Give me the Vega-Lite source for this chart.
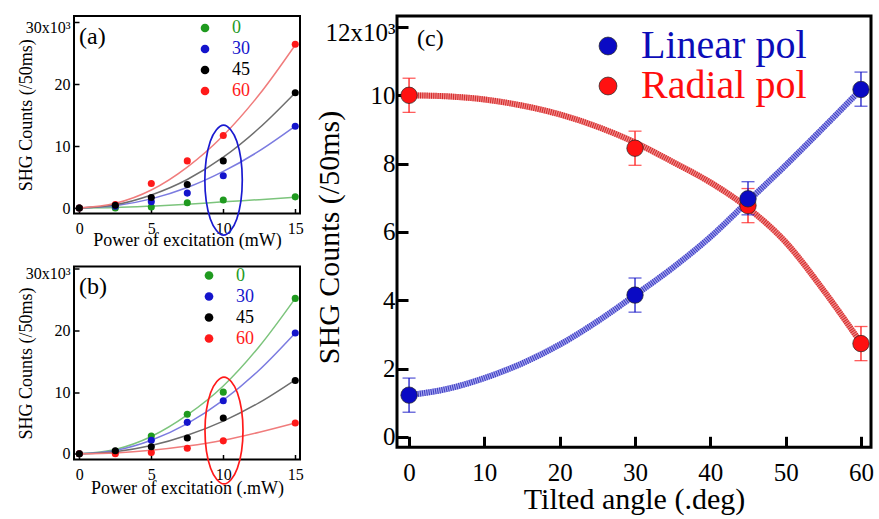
{
  "$schema": "https://vega.github.io/schema/vega-lite/v6.json",
  "background": "white",
  "padding": {"left": 15, "top": 13, "right": 0, "bottom": 0},
  "config": {
    "font": "Liberation Serif",
    "view": {"stroke": "black", "strokeWidth": 2},
    "axis": {"grid": false, "domain": false, "labelFont": "Liberation Serif", "titleFont": "Liberation Serif", "titleFontWeight": "normal", "labelColor": "black", "titleColor": "black", "tickColor": "black", "labelFlush": false, "labelOverlap": false, "labelBound": false},
    "title": {"font": "Liberation Serif", "fontWeight": "normal", "color": "black"},
    "legend": {"labelFont": "Liberation Serif", "labelLimit": 400}
  },
  "datasets": {
    "ptsAB": [
      {"panel": "a", "angle": "0", "power": 0, "counts": 0},
      {"panel": "a", "angle": "0", "power": 2.5, "counts": 0},
      {"panel": "a", "angle": "0", "power": 5, "counts": 150},
      {"panel": "a", "angle": "0", "power": 7.5, "counts": 850},
      {"panel": "a", "angle": "0", "power": 10, "counts": 1300},
      {"panel": "a", "angle": "0", "power": 15, "counts": 1800},
      {"panel": "a", "angle": "30", "power": 0, "counts": 0},
      {"panel": "a", "angle": "30", "power": 2.5, "counts": 300},
      {"panel": "a", "angle": "30", "power": 5, "counts": 1000},
      {"panel": "a", "angle": "30", "power": 7.5, "counts": 2400},
      {"panel": "a", "angle": "30", "power": 10, "counts": 5200},
      {"panel": "a", "angle": "30", "power": 15, "counts": 13200},
      {"panel": "a", "angle": "60", "power": 0, "counts": 0},
      {"panel": "a", "angle": "60", "power": 2.5, "counts": 550},
      {"panel": "a", "angle": "60", "power": 5, "counts": 3950},
      {"panel": "a", "angle": "60", "power": 7.5, "counts": 7600},
      {"panel": "a", "angle": "60", "power": 10, "counts": 11700},
      {"panel": "a", "angle": "60", "power": 15, "counts": 26400},
      {"panel": "a", "angle": "45", "power": 0, "counts": 0},
      {"panel": "a", "angle": "45", "power": 2.5, "counts": 450},
      {"panel": "a", "angle": "45", "power": 5, "counts": 1700},
      {"panel": "a", "angle": "45", "power": 7.5, "counts": 3800},
      {"panel": "a", "angle": "45", "power": 10, "counts": 7600},
      {"panel": "a", "angle": "45", "power": 15, "counts": 18600},
      {"panel": "b", "angle": "0", "power": 0, "counts": 0},
      {"panel": "b", "angle": "0", "power": 2.5, "counts": 400},
      {"panel": "b", "angle": "0", "power": 5, "counts": 2900},
      {"panel": "b", "angle": "0", "power": 7.5, "counts": 6400},
      {"panel": "b", "angle": "0", "power": 10, "counts": 10000},
      {"panel": "b", "angle": "0", "power": 15, "counts": 25200},
      {"panel": "b", "angle": "30", "power": 0, "counts": 0},
      {"panel": "b", "angle": "30", "power": 2.5, "counts": 300},
      {"panel": "b", "angle": "30", "power": 5, "counts": 2200},
      {"panel": "b", "angle": "30", "power": 7.5, "counts": 5100},
      {"panel": "b", "angle": "30", "power": 10, "counts": 8600},
      {"panel": "b", "angle": "30", "power": 15, "counts": 19600},
      {"panel": "b", "angle": "60", "power": 0, "counts": 0},
      {"panel": "b", "angle": "60", "power": 2.5, "counts": 0},
      {"panel": "b", "angle": "60", "power": 5, "counts": 200},
      {"panel": "b", "angle": "60", "power": 7.5, "counts": 900},
      {"panel": "b", "angle": "60", "power": 10, "counts": 2100},
      {"panel": "b", "angle": "60", "power": 15, "counts": 5000},
      {"panel": "b", "angle": "45", "power": 0, "counts": 0},
      {"panel": "b", "angle": "45", "power": 2.5, "counts": 500},
      {"panel": "b", "angle": "45", "power": 5, "counts": 1150},
      {"panel": "b", "angle": "45", "power": 7.5, "counts": 2550},
      {"panel": "b", "angle": "45", "power": 10, "counts": 5800},
      {"panel": "b", "angle": "45", "power": 15, "counts": 11900}
    ],
    "fitAB": [
      {"panel": "a", "angle": "0", "power": 0, "counts": 0},
      {"panel": "a", "angle": "0", "power": 2.5, "counts": 70},
      {"panel": "a", "angle": "0", "power": 5, "counts": 300},
      {"panel": "a", "angle": "0", "power": 7.5, "counts": 600},
      {"panel": "a", "angle": "0", "power": 10, "counts": 1000},
      {"panel": "a", "angle": "0", "power": 12.5, "counts": 1350},
      {"panel": "a", "angle": "0", "power": 15, "counts": 1750},
      {"panel": "a", "angle": "30", "power": 0, "counts": 0},
      {"panel": "a", "angle": "30", "power": 2.5, "counts": 370},
      {"panel": "a", "angle": "30", "power": 5, "counts": 1470},
      {"panel": "a", "angle": "30", "power": 7.5, "counts": 3300},
      {"panel": "a", "angle": "30", "power": 10, "counts": 5900},
      {"panel": "a", "angle": "30", "power": 12.5, "counts": 9200},
      {"panel": "a", "angle": "30", "power": 15, "counts": 13200},
      {"panel": "a", "angle": "45", "power": 0, "counts": 0},
      {"panel": "a", "angle": "45", "power": 2.5, "counts": 520},
      {"panel": "a", "angle": "45", "power": 5, "counts": 2100},
      {"panel": "a", "angle": "45", "power": 7.5, "counts": 4600},
      {"panel": "a", "angle": "45", "power": 10, "counts": 8200},
      {"panel": "a", "angle": "45", "power": 12.5, "counts": 12900},
      {"panel": "a", "angle": "45", "power": 15, "counts": 18600},
      {"panel": "a", "angle": "60", "power": 0, "counts": 0},
      {"panel": "a", "angle": "60", "power": 2.5, "counts": 750},
      {"panel": "a", "angle": "60", "power": 5, "counts": 2900},
      {"panel": "a", "angle": "60", "power": 7.5, "counts": 6600},
      {"panel": "a", "angle": "60", "power": 10, "counts": 11700},
      {"panel": "a", "angle": "60", "power": 12.5, "counts": 18300},
      {"panel": "a", "angle": "60", "power": 15, "counts": 26300},
      {"panel": "b", "angle": "0", "power": 0, "counts": 0},
      {"panel": "b", "angle": "0", "power": 2.5, "counts": 700},
      {"panel": "b", "angle": "0", "power": 5, "counts": 2800},
      {"panel": "b", "angle": "0", "power": 7.5, "counts": 6300},
      {"panel": "b", "angle": "0", "power": 10, "counts": 11000},
      {"panel": "b", "angle": "0", "power": 12.5, "counts": 17400},
      {"panel": "b", "angle": "0", "power": 15, "counts": 25200},
      {"panel": "b", "angle": "30", "power": 0, "counts": 0},
      {"panel": "b", "angle": "30", "power": 2.5, "counts": 550},
      {"panel": "b", "angle": "30", "power": 5, "counts": 2200},
      {"panel": "b", "angle": "30", "power": 7.5, "counts": 4900},
      {"panel": "b", "angle": "30", "power": 10, "counts": 8700},
      {"panel": "b", "angle": "30", "power": 12.5, "counts": 13600},
      {"panel": "b", "angle": "30", "power": 15, "counts": 19600},
      {"panel": "b", "angle": "45", "power": 0, "counts": 0},
      {"panel": "b", "angle": "45", "power": 2.5, "counts": 330},
      {"panel": "b", "angle": "45", "power": 5, "counts": 1330},
      {"panel": "b", "angle": "45", "power": 7.5, "counts": 3000},
      {"panel": "b", "angle": "45", "power": 10, "counts": 5300},
      {"panel": "b", "angle": "45", "power": 12.5, "counts": 8300},
      {"panel": "b", "angle": "45", "power": 15, "counts": 12000},
      {"panel": "b", "angle": "60", "power": 0, "counts": 0},
      {"panel": "b", "angle": "60", "power": 2.5, "counts": 140},
      {"panel": "b", "angle": "60", "power": 5, "counts": 560},
      {"panel": "b", "angle": "60", "power": 7.5, "counts": 1250},
      {"panel": "b", "angle": "60", "power": 10, "counts": 2200},
      {"panel": "b", "angle": "60", "power": 12.5, "counts": 3500},
      {"panel": "b", "angle": "60", "power": 15, "counts": 5000}
    ],
    "ellipse": [
      {"panel": "a", "idx": 0, "power": 11.32, "counts": 4500},
      {"panel": "a", "idx": 1, "power": 10.94, "counts": 10770},
      {"panel": "a", "idx": 2, "power": 10.02, "counts": 13370},
      {"panel": "a", "idx": 3, "power": 9.10, "counts": 10770},
      {"panel": "a", "idx": 4, "power": 8.72, "counts": 4500},
      {"panel": "a", "idx": 5, "power": 9.10, "counts": -1770},
      {"panel": "a", "idx": 6, "power": 10.02, "counts": -4370},
      {"panel": "a", "idx": 7, "power": 10.94, "counts": -1770},
      {"panel": "b", "idx": 0, "power": 11.37, "counts": 3780},
      {"panel": "b", "idx": 1, "power": 10.98, "counts": 9910},
      {"panel": "b", "idx": 2, "power": 10.05, "counts": 12450},
      {"panel": "b", "idx": 3, "power": 9.12, "counts": 9910},
      {"panel": "b", "idx": 4, "power": 8.73, "counts": 3780},
      {"panel": "b", "idx": 5, "power": 9.12, "counts": -2350},
      {"panel": "b", "idx": 6, "power": 10.05, "counts": -4890},
      {"panel": "b", "idx": 7, "power": 10.98, "counts": -2350}
    ],
    "ptsC": [
      {"pol": "Radial pol", "angle": 0, "counts": 10000, "lo": 9500, "hi": 10500},
      {"pol": "Radial pol", "angle": 30, "counts": 8450, "lo": 7950, "hi": 8950},
      {"pol": "Radial pol", "angle": 45, "counts": 6770, "lo": 6270, "hi": 7270},
      {"pol": "Radial pol", "angle": 60, "counts": 2730, "lo": 2230, "hi": 3230},
      {"pol": "Linear pol", "angle": 0, "counts": 1220, "lo": 720, "hi": 1720},
      {"pol": "Linear pol", "angle": 30, "counts": 4150, "lo": 3650, "hi": 4650},
      {"pol": "Linear pol", "angle": 45, "counts": 6970, "lo": 6500, "hi": 7470},
      {"pol": "Linear pol", "angle": 60, "counts": 10170, "lo": 9680, "hi": 10680}
    ],
    "fitC": [
      {"pol": "Linear pol", "angle": 0, "counts": 1220},
      {"pol": "Linear pol", "angle": 5, "counts": 1400},
      {"pol": "Linear pol", "angle": 10, "counts": 1720},
      {"pol": "Linear pol", "angle": 15, "counts": 2150},
      {"pol": "Linear pol", "angle": 20, "counts": 2700},
      {"pol": "Linear pol", "angle": 25, "counts": 3380},
      {"pol": "Linear pol", "angle": 30, "counts": 4150},
      {"pol": "Linear pol", "angle": 35, "counts": 4950},
      {"pol": "Linear pol", "angle": 40, "counts": 5850},
      {"pol": "Linear pol", "angle": 45, "counts": 6900},
      {"pol": "Linear pol", "angle": 50, "counts": 7950},
      {"pol": "Linear pol", "angle": 55, "counts": 9050},
      {"pol": "Linear pol", "angle": 60, "counts": 10170},
      {"pol": "Radial pol", "angle": 0, "counts": 10000},
      {"pol": "Radial pol", "angle": 5, "counts": 9970},
      {"pol": "Radial pol", "angle": 10, "counts": 9880},
      {"pol": "Radial pol", "angle": 15, "counts": 9700},
      {"pol": "Radial pol", "angle": 20, "counts": 9440},
      {"pol": "Radial pol", "angle": 25, "counts": 9080},
      {"pol": "Radial pol", "angle": 30, "counts": 8620},
      {"pol": "Radial pol", "angle": 35, "counts": 8050},
      {"pol": "Radial pol", "angle": 40, "counts": 7450},
      {"pol": "Radial pol", "angle": 45, "counts": 6700},
      {"pol": "Radial pol", "angle": 50, "counts": 5700},
      {"pol": "Radial pol", "angle": 55, "counts": 4300},
      {"pol": "Radial pol", "angle": 60, "counts": 2750}
    ]
  },
  "bounds": "flush",
  "spacing": 323,
  "resolve": {"scale": {"x": "independent", "y": "independent", "color": "independent", "stroke": "independent"}, "legend": {"color": "independent"}},
  "hconcat": [
    {
      "bounds": "flush",
      "spacing": 52.5,
      "resolve": {"scale": {"x": "independent", "y": "independent", "color": "independent", "stroke": "independent"}, "legend": {"color": "independent"}},
      "vconcat": [
        {
          "width": 226,
          "height": 197.5,
          "view": {"stroke": "black", "strokeWidth": 2},
          "title": {"text": "(a)", "anchor": "start", "frame": "group", "fontSize": 24, "offset": -54, "baseline": "alphabetic", "dx": 5},
          "encoding": {
            "x": {"field": "power", "type": "quantitative", "scale": {"domain": [-0.37, 15.33], "nice": false, "zero": false},
              "axis": {"values": [0, 5, 10, 15], "title": "Power of excitation (mW)", "titleFontSize": 18, "labelFontSize": 16, "tickSize": -5, "tickWidth": 1.5, "labelPadding": 19.5, "labelBaseline": "middle", "titleY": 27, "titleBaseline": "middle"}},
            "y": {"field": "counts", "type": "quantitative", "scale": {"domain": [-887, 30970], "nice": false, "zero": false},
              "axis": {"values": [0, 10000, 20000, 30000], "labelExpr": "datum.value == 30000 ? ['', '30x10³'] : format(datum.value / 1000, 'd')", "labelLineHeight": 5, "title": "SHG Counts (/50ms)", "titleFontSize": 18, "labelFontSize": 16, "tickSize": -5, "tickWidth": 1.5, "labelPadding": 9, "titleX": -48, "titleBaseline": "middle"}}
          },
          "layer": [
            {
              "data": {"name": "fitAB"},
              "transform": [{"filter": "datum.panel == 'a'"}],
              "mark": {"type": "line", "strokeWidth": 1.5, "interpolate": "monotone"},
              "encoding": {"stroke": {"field": "angle", "type": "nominal", "scale": {"range": ["#7cc47c", "#7b7be0", "#6e6e6e", "#f07c7c"]}, "legend": null}}
            },
            {
              "data": {"name": "ellipse"},
              "transform": [{"filter": "datum.panel == 'a'"}],
              "mark": {"type": "line", "interpolate": "cardinal-closed", "stroke": "#1a1ad0", "strokeWidth": 1.7},
              "encoding": {"order": {"field": "idx", "type": "quantitative"}}
            },
            {
              "data": {"name": "ptsAB"},
              "transform": [{"filter": "datum.panel == 'a'"}],
              "mark": {"type": "point", "filled": true, "size": 50, "opacity": 1},
              "encoding": {
                "color": {"field": "angle", "type": "nominal", "scale": {"domain": ["0", "30", "45", "60"], "range": ["#1f9a1f", "#1414cc", "#000000", "#ff1a1a"]},
                  "legend": {"orient": "none", "legendX": 122, "legendY": 3, "title": null, "labelFont": "Liberation Serif", "labelFontSize": 18, "symbolSize": 75, "symbolType": "circle", "labelOffset": 18, "rowPadding": 3, "padding": 0, "symbolStrokeWidth": 0,
                    "labelColor": {"expr": "datum.label == '0' ? '#1f9a1f' : datum.label == '30' ? '#1414cc' : datum.label == '45' ? '#000000' : '#ff1a1a'"}}}
              }
            }
          ]
        },
        {
          "width": 226,
          "height": 193,
          "view": {"stroke": "black", "strokeWidth": 2},
          "title": {"text": "(b)", "anchor": "start", "frame": "group", "fontSize": 24, "offset": -57, "baseline": "alphabetic", "dx": 5},
          "encoding": {
            "x": {"field": "power", "type": "quantitative", "scale": {"domain": [-0.37, 15.33], "nice": false, "zero": false},
              "axis": {"values": [0, 5, 10, 15], "title": "Power of excitation (.mW)", "titleFontSize": 18, "labelFontSize": 16, "tickSize": -5, "tickWidth": 1.5, "labelPadding": 20, "labelBaseline": "middle", "titleY": 29, "titleBaseline": "middle"}},
            "y": {"field": "counts", "type": "quantitative", "scale": {"domain": [-924, 30373], "nice": false, "zero": false},
              "axis": {"values": [0, 10000, 20000, 30000], "labelExpr": "datum.value == 30000 ? ['', '30x10³'] : format(datum.value / 1000, 'd')", "labelLineHeight": 5, "title": "SHG Counts (/50ms)", "titleFontSize": 18, "labelFontSize": 16, "tickSize": -5, "tickWidth": 1.5, "labelPadding": 9, "titleX": -48, "titleBaseline": "middle"}}
          },
          "layer": [
            {
              "data": {"name": "fitAB"},
              "transform": [{"filter": "datum.panel == 'b'"}],
              "mark": {"type": "line", "strokeWidth": 1.5, "interpolate": "monotone"},
              "encoding": {"stroke": {"field": "angle", "type": "nominal", "scale": {"range": ["#7cc47c", "#7b7be0", "#6e6e6e", "#f07c7c"]}, "legend": null}}
            },
            {
              "data": {"name": "ellipse"},
              "transform": [{"filter": "datum.panel == 'b'"}],
              "mark": {"type": "line", "interpolate": "cardinal-closed", "stroke": "#ff1a1a", "strokeWidth": 1.7},
              "encoding": {"order": {"field": "idx", "type": "quantitative"}}
            },
            {
              "data": {"name": "ptsAB"},
              "transform": [{"filter": "datum.panel == 'b'"}],
              "mark": {"type": "point", "filled": true, "size": 50, "opacity": 1},
              "encoding": {
                "color": {"field": "angle", "type": "nominal", "scale": {"domain": ["0", "30", "45", "60"], "range": ["#1f9a1f", "#1414cc", "#000000", "#ff1a1a"]},
                  "legend": {"orient": "none", "legendX": 126, "legendY": 0, "title": null, "labelFont": "Liberation Serif", "labelFontSize": 18, "symbolSize": 75, "symbolType": "circle", "labelOffset": 18, "rowPadding": 3, "padding": 0, "symbolStrokeWidth": 0,
                    "labelColor": {"expr": "datum.label == '0' ? '#1f9a1f' : datum.label == '30' ? '#1414cc' : datum.label == '45' ? '#000000' : '#ff1a1a'"}}}
              }
            }
          ]
        }
      ]
    },
    {
      "width": 474,
      "height": 431.3,
      "view": {"stroke": "black", "strokeWidth": 3},
      "title": {"text": "(c)", "anchor": "start", "frame": "group", "fontSize": 24, "offset": -55, "baseline": "alphabetic", "dx": 20},
      "encoding": {
        "x": {"field": "angle", "type": "quantitative", "scale": {"domain": [-1.6, 61.33], "nice": false, "zero": false},
          "axis": {"values": [0, 10, 20, 30, 40, 50, 60], "title": "Tilted angle (.deg)", "titleFontSize": 30, "labelFontSize": 25, "tickSize": -11, "tickWidth": 3, "labelPadding": 36, "labelBaseline": "middle", "titleY": 52, "titleBaseline": "middle"}},
        "y": {"field": "counts", "type": "quantitative", "scale": {"domain": [-307, 12322], "nice": false, "zero": false},
          "axis": {"values": [0, 2000, 4000, 6000, 8000, 10000, 12000], "labelExpr": "datum.value == 12000 ? ['', '12x10³\u2002'] : format(datum.value / 1000, 'd')", "labelLineHeight": 6, "title": "SHG Counts (/50ms)", "titleFontSize": 30, "labelFontSize": 25, "tickSize": -11, "tickWidth": 3, "labelPadding": 13, "titleX": -68, "titleY": 221, "titleBaseline": "middle"}}
      },
      "layer": [
        {
          "data": {"name": "fitC"},
          "transform": [{"filter": "datum.pol == 'Radial pol'"}],
          "mark": {"type": "line", "strokeWidth": 6, "interpolate": "monotone", "stroke": "#f08a8a"}
        },
        {
          "data": {"name": "fitC"},
          "transform": [{"filter": "datum.pol == 'Radial pol'"}],
          "mark": {"type": "line", "strokeWidth": 6, "interpolate": "monotone", "stroke": "#d42a2a", "strokeDash": [1, 1.2]}
        },
        {
          "data": {"name": "fitC"},
          "transform": [{"filter": "datum.pol == 'Linear pol'"}],
          "mark": {"type": "line", "strokeWidth": 6, "interpolate": "monotone", "stroke": "#a3a3ee"}
        },
        {
          "data": {"name": "fitC"},
          "transform": [{"filter": "datum.pol == 'Linear pol'"}],
          "mark": {"type": "line", "strokeWidth": 6, "interpolate": "monotone", "stroke": "#3c3cc0", "strokeDash": [1, 1.2]}
        },
        {
          "data": {"name": "ptsC"},
          "transform": [{"filter": "datum.pol == 'Radial pol'"}, {"fold": ["lo", "hi"], "as": ["end", "counts"]}],
          "mark": {"type": "line", "strokeWidth": 1.3, "color": "#ff1a1a"},
          "encoding": {"detail": {"field": "angle", "type": "nominal"}}
        },
        {
          "data": {"name": "ptsC"},
          "transform": [{"filter": "datum.pol == 'Radial pol'"}, {"fold": ["lo", "hi"], "as": ["end", "counts"]}],
          "mark": {"type": "tick", "orient": "horizontal", "size": 13, "thickness": 1.3, "color": "#ff1a1a"}
        },
        {
          "data": {"name": "ptsC"},
          "transform": [{"filter": "datum.pol == 'Linear pol'"}, {"fold": ["lo", "hi"], "as": ["end", "counts"]}],
          "mark": {"type": "line", "strokeWidth": 1.3, "color": "#1a1ac8"},
          "encoding": {"detail": {"field": "angle", "type": "nominal"}}
        },
        {
          "data": {"name": "ptsC"},
          "transform": [{"filter": "datum.pol == 'Linear pol'"}, {"fold": ["lo", "hi"], "as": ["end", "counts"]}],
          "mark": {"type": "tick", "orient": "horizontal", "size": 13, "thickness": 1.3, "color": "#1a1ac8"}
        },
        {
          "data": {"name": "ptsC"},
          "mark": {"type": "point", "filled": true, "size": 270, "opacity": 1, "stroke": "#222222", "strokeWidth": 0.7},
          "encoding": {
            "color": {"field": "pol", "type": "nominal", "scale": {"domain": ["Linear pol", "Radial pol"], "range": ["#0a0ac4", "#ff1111"]},
              "legend": {"orient": "none", "legendX": 191, "legendY": 10, "title": null, "labelFont": "Liberation Serif", "labelFontSize": 40, "labelLimit": 400, "symbolSize": 320, "symbolType": "circle", "labelOffset": 13, "rowPadding": 0, "padding": 0, "symbolStrokeColor": "#222222", "symbolStrokeWidth": 0.7,
                "labelColor": {"expr": "datum.label == 'Linear pol' ? '#0c0cb8' : '#ff0d0d'"}}}
          }
        }
      ]
    }
  ]
}
